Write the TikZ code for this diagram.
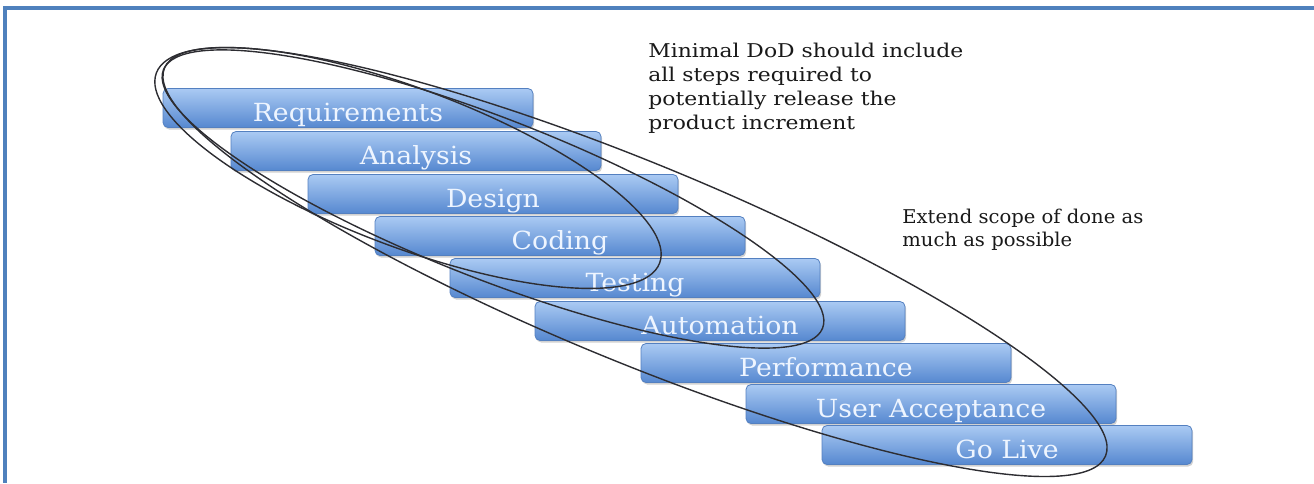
\documentclass[tikz,border=0pt]{standalone}
\usepackage{fontspec}
\usepackage{graphicx}
\newfontfamily\stepfont{DejaVu Serif}
\usetikzlibrary{shadows}

\definecolor{frameblue}{RGB}{79,129,189}
\definecolor{bartop}{RGB}{170,202,243}
\definecolor{barbottom}{RGB}{86,136,208}
\definecolor{baredge}{RGB}{84,128,192}
\definecolor{bartext}{RGB}{238,245,255}
\definecolor{loopline}{RGB}{45,45,50}
\definecolor{notetext}{RGB}{25,25,25}

\newcommand{\wide}[2]{\scalebox{#1}[1]{#2}}

\tikzset{
  stepbar/.style={rounded corners=2.5pt, draw=baredge, line width=0.4pt,
    top color=bartop, bottom color=barbottom,
    minimum width=185pt, minimum height=19.5pt, inner sep=0pt,
    text height=13pt, text depth=0pt,
    text=bartext, font=\stepfont\fontsize{12.5}{14}\selectfont,
    drop shadow={shadow xshift=0.6pt, shadow yshift=-1pt, opacity=0.3, fill=black!60}},
  note/.style={anchor=north west, align=left, inner sep=0pt, text=notetext,
    font=\stepfont\fontsize{9.5}{12}\selectfont},
  loop/.style={draw=loopline, line width=0.7pt},
  frameline/.style={draw=frameblue, line width=1.6pt}
}

\begin{document}
\begin{tikzpicture}[x=0.5pt, y=-0.5pt]
\useasboundingbox (0,0) rectangle (1314,483);

% frame
\coordinate (ftr) at (1314,8);
\coordinate (ftl) at (5,8);
\coordinate (fbl) at (5,483);
\draw[frameline] (ftr) -- (ftl) -- (fbl);

% stages
\node[stepbar] (req)  at (348,108) {\wide{1.07}{Requirements}};
\node[stepbar] (ana)  at (416,151) {\wide{1.07}{Analysis}};
\node[stepbar] (des)  at (493,194) {\wide{1.07}{Design}};
\node[stepbar] (cod)  at (560,236) {\wide{1.07}{Coding}};
\node[stepbar] (tst)  at (635,278) {\wide{1.07}{Testing}};
\node[stepbar] (aut)  at (720,321) {\wide{1.07}{Automation}};
\node[stepbar] (perf) at (826,363) {\wide{1.07}{Performance}};
\node[stepbar] (uat)  at (931,404) {\wide{1.07}{User Acceptance}};
\node[stepbar] (live) at (1007,445) {\wide{1.07}{Go Live}};

% scope loops
\begin{scope}[shift={(408,168)}, rotate=-20.7]
  \draw[loop] (0,0) ellipse [x radius=269, y radius=79];
\end{scope}
\begin{scope}[shift={(493,199)}, rotate=-21.4]
  \draw[loop] (0,0) ellipse [x radius=354, y radius=80];
\end{scope}
\begin{scope}[shift={(635,262)}, rotate=-22.4]
  \draw[loop] (0,0) ellipse [x radius=509, y radius=99];
\end{scope}

% notes
\node[note] (minimal) at (648,43) {\wide{1.15}{Minimal DoD should include}\\
  \wide{1.15}{all steps required to}\\
  \wide{1.15}{potentially release the}\\
  \wide{1.15}{product increment}};
\node[note, font=\stepfont\fontsize{9.5}{11.5}\selectfont] (extend) at (902,209)
  {\wide{1.03}{Extend scope of done as}\\
  \wide{1.03}{much as possible}};
\end{tikzpicture}
\end{document}
